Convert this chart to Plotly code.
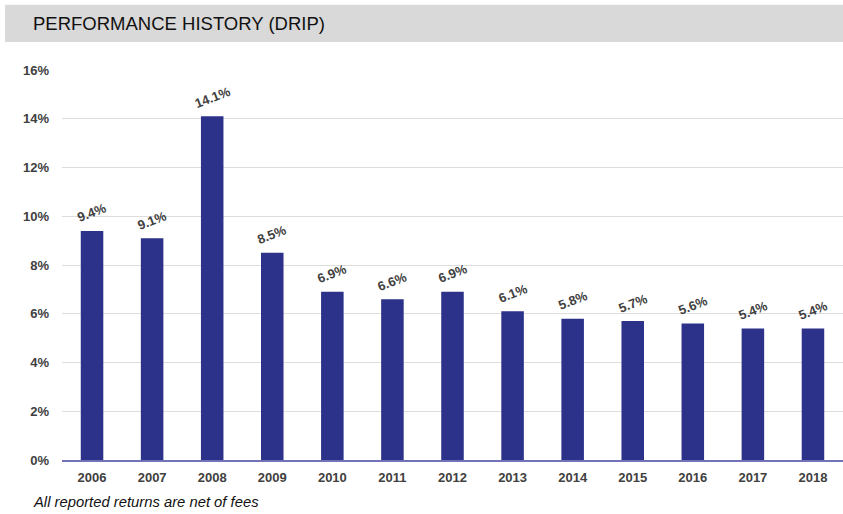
import plotly.graph_objects as go

years = ["2006", "2007", "2008", "2009", "2010", "2011", "2012",
         "2013", "2014", "2015", "2016", "2017", "2018"]
returns = [9.4, 9.1, 14.1, 8.5, 6.9, 6.6, 6.9, 6.1, 5.8, 5.7, 5.6, 5.4, 5.4]
y_ticks = [0, 2, 4, 6, 8, 10, 12, 14, 16]
y_tick_labels = [f"{v}%" for v in y_ticks]

W, H = 843, 514
L, R, T, B = 62, 0, 69.5, 53.5
pw, ph = W - L - R, H - T - B

def px_x(x):
    return (x - L) / pw

def px_y(y):
    return (H - B - y) / ph

font = "Liberation Sans, Arial, sans-serif"
grey = "#404040"

fig = go.Figure()
fig.add_trace(go.Bar(
    x=years, y=returns,
    marker=dict(color="#2C3189", line=dict(width=0)),
    width=0.375,
    hoverinfo="skip",
))

annotations = []
for i, v in enumerate(returns):
    annotations.append(dict(
        x=i, y=v, xref="x", yref="y",
        text=f"{v}%", showarrow=False,
        textangle=-21, yanchor="bottom", xanchor="center",
        yshift=3,
        font=dict(family=font, size=13, color=grey, weight="bold"),
    ))

annotations.append(dict(
    x=px_x(31), y=px_y(23), xref="paper", yref="paper",
    text="PERFORMANCE HISTORY (DRIP)", showarrow=False,
    xanchor="left", yanchor="middle",
    font=dict(family=font, size=18.5, color="#111111"),
))
annotations.append(dict(
    x=px_x(31), y=px_y(503), xref="paper", yref="paper",
    text="<i>All reported returns are net of fees</i>", showarrow=False,
    xanchor="left", yanchor="middle",
    font=dict(family=font, size=14.8, color="#111111"),
))

fig.add_shape(
    type="rect", xref="paper", yref="paper",
    x0=px_x(5), x1=px_x(843), y0=px_y(41.5), y1=px_y(4),
    fillcolor="#D9D9D9", line=dict(width=0), layer="below",
)

fig.update_layout(
    width=W, height=H,
    margin=dict(l=L, r=R, t=T, b=B, pad=0),
    paper_bgcolor="white", plot_bgcolor="white",
    showlegend=False,
    annotations=annotations,
    xaxis=dict(
        type="category", range=[-0.5, len(years) - 0.5],
        tickfont=dict(family=font, size=13, color=grey, weight="bold"),
        showgrid=False, showline=True, linecolor="#7272B8", linewidth=2,
        ticks="", ticklabelstandoff=4,
    ),
    yaxis=dict(
        range=[0, 16], tickvals=y_ticks, ticktext=y_tick_labels,
        tickfont=dict(family=font, size=13, color=grey, weight="bold"),
        showgrid=True, gridcolor="#DDDDDD", gridwidth=1,
        zeroline=False, ticks="", ticklabelstandoff=12,
    ),
)

fig.write_html(
    "out.html",
    config={"displayModeBar": False},
    post_script="document.body.style.margin='0';document.body.style.padding='0';",
)
